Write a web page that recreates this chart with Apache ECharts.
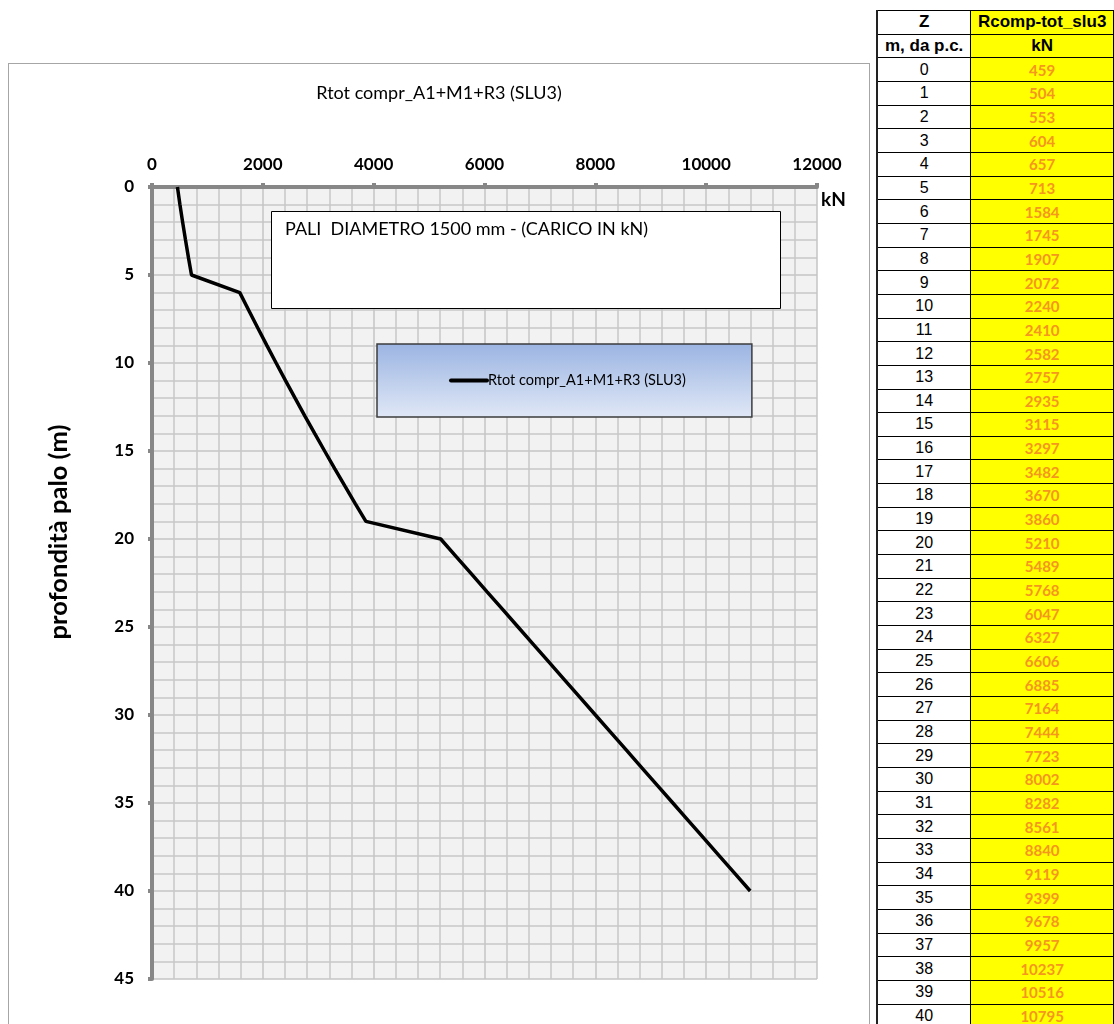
<!DOCTYPE html>
<html>
<head>
<meta charset="utf-8">
<title>Rtot compr_A1+M1+R3 (SLU3)</title>
<script src="https://cdn.jsdelivr.net/npm/echarts@6/dist/echarts.min.js"></script>
<style>
  html, body { margin: 0; padding: 0; width: 1114px; height: 1024px; overflow: hidden; background: #fff; }
  #chart { position: absolute; left: 8px; top: 63px; width: 862px; height: 1000px;
           border: 1px solid #a6a6a6; box-sizing: border-box; }
  #tbl { position: absolute; left: 876px; top: 10px; border-collapse: collapse; table-layout: fixed;
         font-family: "Liberation Sans", Arial, sans-serif; }
  #tbl td { border: 1px solid #000; padding: 0; text-align: center; height: 22.67px; line-height: 20px;
            white-space: nowrap; overflow: hidden; }
  #tbl td.z { width: 101px; font-size: 16px; color: #000; background: #fff; border-left: 2px solid #222; }
  #tbl td.r { width: 150px; background: #ffff00; color: #f5961e; font-family: Lato, sans-serif;
              font-weight: bold; font-size: 15px; }
  #tbl td.h { font-weight: bold; font-size: 17px; color: #000; font-family: "Liberation Sans", Arial, sans-serif; }
</style>
</head>
<body>
<div id="chart"></div>
<table id="tbl"></table>
<script>
// Depth below ground level (m) and total compressive resistance (kN)
const depths = [0, 1, 2, 3, 4, 5, 6, 7, 8, 9, 10, 11, 12, 13, 14, 15, 16, 17, 18, 19, 20,
                21, 22, 23, 24, 25, 26, 27, 28, 29, 30, 31, 32, 33, 34, 35, 36, 37, 38, 39, 40];
const rcomp = [459, 504, 553, 604, 657, 713, 1584, 1745, 1907, 2072, 2240, 2410, 2582, 2757, 2935,
               3115, 3297, 3482, 3670, 3860, 5210, 5489, 5768, 6047, 6327, 6606, 6885, 7164, 7444,
               7723, 8002, 8282, 8561, 8840, 9119, 9399, 9678, 9957, 10237, 10516, 10795];
const headerTop = ['Z', 'Rcomp-tot_slu3'];
const headerUnits = ['m, da p.c.', 'kN'];
const seriesName = 'Rtot compr_A1+M1+R3 (SLU3)';
const noteText = 'PALI  DIAMETRO 1500 mm - (CARICO IN kN)';
const yAxisTitle = 'profondità palo (m)';
const xUnit = 'kN';

// Data table beside the chart
const tbl = document.getElementById('tbl');
function addRow(cells, cls) {
  const tr = document.createElement('tr');
  cells.forEach((c, i) => {
    const td = document.createElement('td');
    td.className = (i === 0 ? 'z' : 'r') + (cls ? ' ' + cls : '');
    td.textContent = c;
    tr.appendChild(td);
  });
  tbl.appendChild(tr);
}
addRow(headerTop, 'h');
addRow(headerUnits, 'h');
depths.forEach((d, i) => addRow([String(d), String(rcomp[i])]));

// Chart
const chart = echarts.init(document.getElementById('chart'), null, { renderer: 'canvas' });
const axisFont = { fontFamily: 'Lato', fontWeight: 'bold', fontSize: 17, color: '#000' };
const plain = v => String(v);

chart.setOption({
  animation: false,
  backgroundColor: '#fff',
  title: {
    text: seriesName,
    left: 'center',
    top: 15,
    textStyle: { fontFamily: 'Lato', fontWeight: 'normal', fontSize: 18, color: '#000' }
  },
  grid: {
    left: 143, top: 123, width: 665, height: 792,
    show: true, backgroundColor: '#f2f2f2', borderWidth: 0
  },
  legend: {
    left: 368, top: 280,
    padding: [29, 66, 29, 72],
    itemWidth: 36, itemHeight: 14,
    backgroundColor: {
      type: 'linear', x: 0, y: 0, x2: 0, y2: 1,
      colorStops: [{ offset: 0, color: '#9bb4e2' }, { offset: 1, color: '#e0e8f6' }]
    },
    borderColor: '#3c3c3c', borderWidth: 1.5,
    textStyle: { fontFamily: 'Lato', fontSize: 14.5, color: '#000', padding: [0, 0, 0, -4] },
    data: [seriesName],
    itemStyle: { opacity: 0 },
    lineStyle: { width: 4, cap: 'round', opacity: 1 }
  },
  xAxis: {
    type: 'value', position: 'top',
    min: 0, max: 12000, interval: 2000,
    axisLine: { show: true, lineStyle: { color: '#878787', width: 4 } },
    axisTick: { show: true, length: 4, lineStyle: { color: '#878787', width: 4 } },
    axisLabel: Object.assign({ margin: 14, formatter: plain }, axisFont),
    splitLine: { show: true, lineStyle: { color: '#c4c4c4', width: 1.5 } },
    minorTick: { show: false, splitNumber: 5 },
    minorSplitLine: { show: true, lineStyle: { color: '#c8c8c8', width: 1.5 } }
  },
  yAxis: {
    type: 'value', inverse: true,
    min: 0, max: 45, interval: 5,
    axisLine: { show: true, onZero: false, lineStyle: { color: '#878787', width: 4 } },
    axisTick: { show: true, length: 4, lineStyle: { color: '#878787', width: 4 } },
    axisLabel: Object.assign({ margin: 18, formatter: plain }, axisFont),
    splitLine: { show: true, lineStyle: { color: '#c4c4c4', width: 1.5 } },
    minorTick: { show: false, splitNumber: 5 },
    minorSplitLine: { show: true, lineStyle: { color: '#c8c8c8', width: 1.5 } }
  },
  graphic: [
    {
      type: 'rect', left: 262, top: 147, z: 10,
      shape: { width: 509, height: 97 },
      style: { fill: '#fff', stroke: '#000', lineWidth: 1 }
    },
    {
      type: 'text', left: 276, top: 156, z: 11,
      style: { text: noteText, fontFamily: 'Lato', fontSize: 18, fill: '#000' }
    },
    {
      type: 'text', x: 50, y: 468, rotation: Math.PI / 2, z: 11,
      style: { text: yAxisTitle, fontFamily: 'Lato', fontWeight: 'bold', fontSize: 25.5, fill: '#000',
               align: 'center', verticalAlign: 'middle' }
    },
    {
      type: 'text', x: 812, y: 136, z: 11,
      style: { text: xUnit, fontFamily: 'Lato', fontWeight: 'bold', fontSize: 19, fill: '#000',
               align: 'left', verticalAlign: 'middle' }
    }
  ],
  series: [{
    name: seriesName,
    type: 'line',
    symbol: 'none',
    lineStyle: { color: '#000', width: 3.5 },
    itemStyle: { color: '#000' },
    data: depths.map((d, i) => [rcomp[i], d]),
    z: 5
  }]
});
</script>
</body>
</html>
